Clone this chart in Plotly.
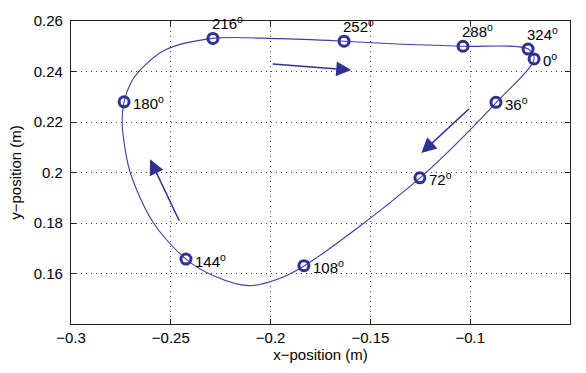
import plotly.graph_objects as go

# trajectory (closed loop, order of travel)
path_x = [-0.068, -0.087, -0.125, -0.183, -0.198, -0.211, -0.228, -0.2424, -0.2589, -0.2704,
          -0.2739, -0.2744, -0.2734, -0.2700, -0.2654, -0.2529, -0.2289, -0.196, -0.1632, -0.134,
          -0.1036, -0.071, -0.068]
path_y = [0.245, 0.2277, 0.198, 0.1631, 0.1573, 0.1552, 0.1589, 0.1657, 0.1803, 0.2002,
          0.2148, 0.2205, 0.228, 0.2355, 0.2405, 0.2485, 0.2531, 0.2530, 0.2520, 0.2508,
          0.2500, 0.2489, 0.245]

# marked angle positions
mark_x = [-0.068, -0.0871, -0.1252, -0.1833, -0.2424, -0.2734, -0.2289, -0.1632, -0.1036, -0.071]
mark_y = [0.245, 0.2278, 0.1979, 0.1631, 0.1657, 0.228, 0.2531, 0.2520, 0.2500, 0.2489]
mark_labels = ["0", "36", "72", "108", "144", "180", "216", "252", "288", "324"]

# direction arrows (tail -> head)
arrow_tail = [(-0.1997, 0.2430), (-0.0999, 0.2257), (-0.2454, 0.1803)]
arrow_head = [(-0.1596, 0.2406), (-0.1245, 0.2077), (-0.2604, 0.2052)]

col = "#2E3192"
fig = go.Figure()
fig.add_trace(go.Scatter(x=path_x, y=path_y, mode="lines", line=dict(color="#3A3FA8", width=1.1, shape="spline", smoothing=0.9),
                         hoverinfo="skip", showlegend=False))
fig.add_trace(go.Scatter(x=mark_x, y=mark_y, mode="markers",
                         marker=dict(symbol="circle-open", size=10, color=col, line=dict(width=3, color=col)),
                         showlegend=False))

top_labels = {"216", "252", "288", "324"}
for x, y, lab in zip(mark_x, mark_y, mark_labels):
    txt = lab + "<sup>o</sup>"
    if lab in top_labels:
        fig.add_annotation(x=x, y=y, text=txt, showarrow=False, xanchor="left", yanchor="bottom",
                           xshift=-3, yshift=4, font=dict(size=15, color="black"))
    else:
        fig.add_annotation(x=x, y=y, text=txt, showarrow=False, xanchor="left", yanchor="middle",
                           xshift=7, yshift=-1, font=dict(size=15, color="black"))

for (tx, ty), (hx, hy) in zip(arrow_tail, arrow_head):
    fig.add_annotation(x=hx, y=hy, ax=tx, ay=ty, xref="x", yref="y", axref="x", ayref="y",
                       showarrow=True, arrowhead=2, arrowsize=2.0, arrowwidth=1.5, arrowcolor=col, text="")

axis_common = dict(showline=True, linecolor="#222", linewidth=1.2, mirror="allticks", ticks="inside",
                   ticklen=5, tickcolor="#222", showgrid=True, gridcolor="#444", griddash="1px,4px",
                   gridwidth=1, zeroline=False, tickfont=dict(size=15, color="black"))
fig.update_xaxes(range=[-0.3, -0.05], tickvals=[-0.3, -0.25, -0.2, -0.15, -0.1, -0.05],
                 ticktext=["−0.3", "−0.25", "−0.2", "−0.15", "−0.1", "−0.05"],
                 title=dict(text="x−position (m)", font=dict(size=15, color="black"), standoff=4), **axis_common)
fig.update_yaxes(range=[0.14, 0.26], tickvals=[0.16, 0.18, 0.2, 0.22, 0.24, 0.26],
                 ticktext=["0.16", "0.18", "0.2", "0.22", "0.24", "0.26"],
                 ticklabelstandoff=4,
                 title=dict(text="y−position (m)", font=dict(size=15, color="black"), standoff=8), **axis_common)
fig.update_layout(width=586, height=373, margin=dict(l=71, r=16, t=12, b=48),
                  plot_bgcolor="white", paper_bgcolor="white",
                  font=dict(family="Liberation Sans, Arial, sans-serif", color="black"))
fig.write_html("out.html")
